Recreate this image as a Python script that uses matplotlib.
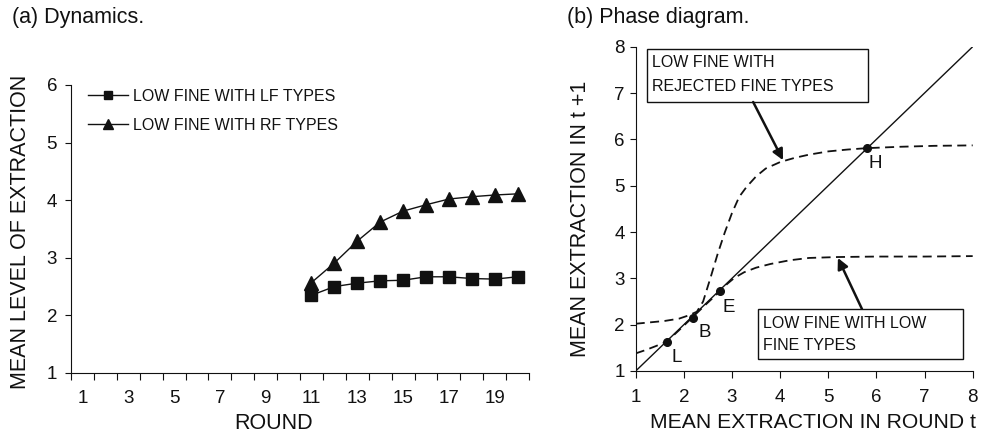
import numpy as np
import matplotlib
matplotlib.use("Agg")
from matplotlib import pyplot as plt
from matplotlib.patches import Rectangle

plt.rcParams['font.family'] = ['Liberation Sans', 'DejaVu Sans']
ink = '#111111'

# (a) dynamics
rounds = [11, 12, 13, 14, 15, 16, 17, 18, 19, 20]
lf_types = [2.35, 2.50, 2.56, 2.60, 2.61, 2.67, 2.67, 2.64, 2.63, 2.67]
rf_types = [2.57, 2.91, 3.29, 3.62, 3.81, 3.92, 4.02, 4.06, 4.09, 4.11]
round_labels = [1, 3, 5, 7, 9, 11, 13, 15, 17, 19]

# (b) phase diagram
diag_x = [1, 8]
diag_y = [1, 8]
rej_x = [1.0, 1.3, 1.6, 1.9, 2.1, 2.27, 2.4, 2.55, 2.7, 2.85, 3.0, 3.15, 3.3,
         3.5, 3.7, 4.0, 4.3, 4.6, 5.0, 5.4, 5.8, 6.5, 7.2, 8.0]
rej_y = [2.02, 2.05, 2.08, 2.13, 2.20, 2.28, 2.50, 3.00, 3.52, 3.99, 4.41, 4.76, 4.97,
         5.20, 5.37, 5.51, 5.60, 5.67, 5.74, 5.78, 5.81, 5.84, 5.86, 5.87]
low_x = [1.0, 1.2, 1.4, 1.64, 1.9, 2.17, 2.45, 2.75, 2.9, 3.05, 3.25, 3.5, 3.8,
         4.2, 4.6, 5.2, 6.0, 7.0, 8.0]
low_y = [1.38, 1.45, 1.53, 1.63, 1.88, 2.15, 2.43, 2.72, 2.88, 3.01, 3.13, 3.23, 3.31,
         3.39, 3.44, 3.46, 3.47, 3.47, 3.48]
eq_names = ['L', 'B', 'E', 'H']
eq_x = [1.64, 2.18, 2.75, 5.80]
eq_y = [1.63, 2.15, 2.72, 5.82]

fig = plt.figure(figsize=(9.85, 4.36), dpi=100)

# ---------------- left panel ----------------
ax1 = fig.add_axes([0.0721, 0.1445, 0.465, 0.6606])
ax1.plot(rounds, lf_types, color=ink, lw=1.0, marker='s', ms=8.5,
         label='LOW FINE WITH LF TYPES')
ax1.plot(rounds, rf_types, color=ink, lw=1.0, marker='^', ms=10,
         label='LOW FINE WITH RF TYPES')
ax1.set_xlim(0.5, 20.5)
ax1.set_ylim(1, 6)
ax1.set_yticks([1, 2, 3, 4, 5, 6])
ax1.set_xticks(np.arange(0.5, 21, 1))
ax1.set_xticklabels([])
ax1.set_xticks(round_labels, minor=True)
ax1.set_xticklabels([str(r) for r in round_labels], minor=True)
ax1.tick_params(axis='x', which='major', direction='out', length=5, color=ink)
ax1.tick_params(axis='x', which='minor', length=0, pad=12, labelsize=13.5, labelcolor=ink)
ax1.tick_params(axis='y', direction='out', length=4, pad=6, labelsize=13.5,
                labelcolor=ink, color=ink)
for s in ['top', 'right']:
    ax1.spines[s].set_visible(False)
for s in ['left', 'bottom']:
    ax1.spines[s].set_color(ink)
ax1.set_xlabel('ROUND', fontsize=15.5, color=ink)
ax1.xaxis.set_label_coords(0.443, -0.177)
ax1.xaxis.label.set_va('center')
ax1.set_ylabel('MEAN LEVEL OF EXTRACTION', fontsize=15.5, color=ink)
ax1.yaxis.set_label_coords(-0.111, 0.49)
ax1.yaxis.label.set_va('center')
fig.legend(*ax1.get_legend_handles_labels(), loc='upper left',
           bbox_to_anchor=(88 / 985, 1 - 89 / 436), frameon=False, fontsize=11.5,
           handlelength=2.5, handletextpad=0.3, labelspacing=0.85, markerscale=0.75,
           borderpad=0, borderaxespad=0, labelcolor=ink)

# ---------------- right panel ----------------
ax2 = fig.add_axes([0.6454, 0.1491, 0.3421, 0.7438])
ax2.plot(diag_x, diag_y, color=ink, lw=1.0)
ax2.plot(rej_x, rej_y, color=ink, lw=1.3, dashes=(5, 3))
ax2.plot(low_x, low_y, color=ink, lw=1.3, dashes=(5, 3))
ax2.plot(eq_x, eq_y, 'o', color=ink, ms=5.5)
offsets = {'L': (0.22, -0.33), 'B': (0.26, -0.31), 'E': (0.19, -0.34), 'H': (0.17, -0.35)}
for n, x, y in zip(eq_names, eq_x, eq_y):
    dx, dy = offsets[n]
    ax2.text(x + dx, y + dy, n, fontsize=13.5, color=ink, ha='center', va='center')
ax2.set_xlim(1, 8)
ax2.set_ylim(1, 8)
ax2.set_xticks(range(1, 9))
ax2.set_yticks(range(1, 9))
ax2.tick_params(axis='x', direction='out', length=5, pad=8, labelsize=13.5,
                labelcolor=ink, color=ink)
ax2.tick_params(axis='y', direction='out', length=4, pad=4, labelsize=13.5,
                labelcolor=ink, color=ink)
for s in ['top', 'right']:
    ax2.spines[s].set_visible(False)
for s in ['left', 'bottom']:
    ax2.spines[s].set_color(ink)
ax2.set_xlabel('MEAN EXTRACTION IN ROUND t', fontsize=15.2, color=ink)
ax2.xaxis.set_label_coords(0.042, -0.160)
ax2.xaxis.label.set_ha('left')
ax2.xaxis.label.set_va('center')
ax2.set_ylabel('MEAN EXTRACTION IN t +1', fontsize=15.5, color=ink)
ax2.yaxis.set_label_coords(-0.165, 0.469)
ax2.yaxis.label.set_va('center')

# annotation boxes
ax2.add_patch(Rectangle((1.235, 6.806), 4.591, 1.144, fill=False, ec=ink, lw=1.0,
                        clip_on=False, zorder=4))
ax2.text(1.33, 7.65, 'LOW FINE WITH', fontsize=11.5, color=ink, va='center')
ax2.text(1.33, 7.15, 'REJECTED FINE TYPES', fontsize=11.5, color=ink, va='center')
ax2.add_patch(Rectangle((3.54, 1.26), 4.26, 1.078, fill=True, fc='white', ec=ink, lw=1.0,
                        clip_on=False, zorder=4))
ax2.text(3.65, 2.03, 'LOW FINE WITH LOW', fontsize=11.5, color=ink, va='center', zorder=5)
ax2.text(3.65, 1.546, 'FINE TYPES', fontsize=11.5, color=ink, va='center', zorder=5)
arrow = dict(arrowstyle='-|>', lw=1.8, color=ink, mutation_scale=16, shrinkA=0, shrinkB=0)
ax2.annotate('', xy=(4.06, 5.55), xytext=(3.44, 6.806), arrowprops=arrow)
ax2.annotate('', xy=(5.20, 3.44), xytext=(5.70, 2.338), arrowprops=arrow)

fig.text(12 / 985, 1 - 18 / 436, '(a) Dynamics.', fontsize=15.5, color=ink, va='center')
fig.text(567 / 985, 1 - 18 / 436, '(b) Phase diagram.', fontsize=15.5, color=ink, va='center')

plt.savefig('out.png', dpi=100)
